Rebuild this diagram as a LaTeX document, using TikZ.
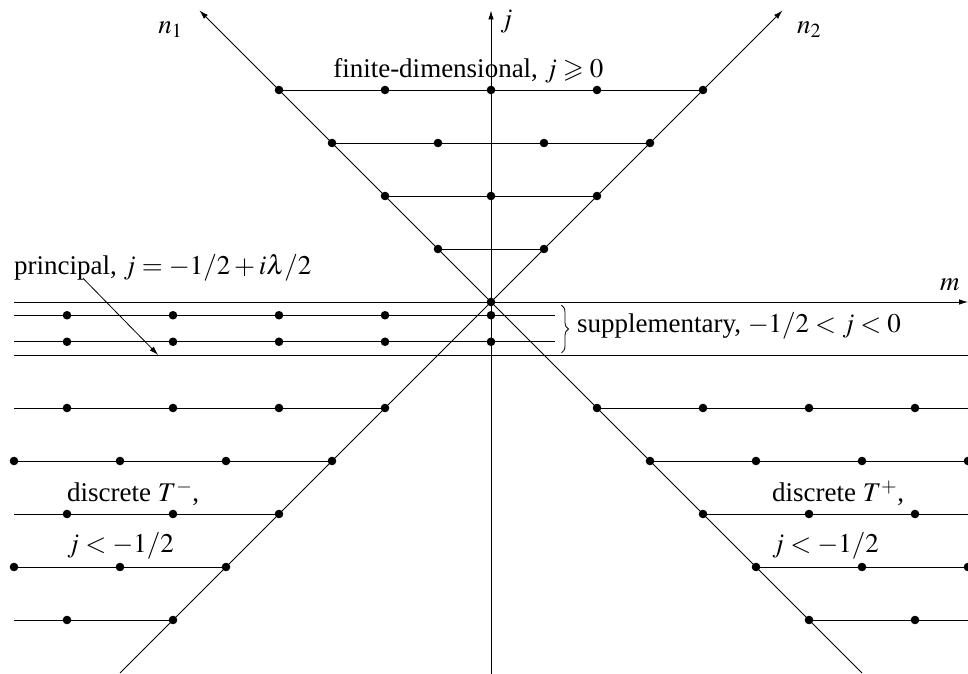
\documentclass[tikz,border=0pt]{standalone}
\usepackage{amssymb}
\usepackage{mathptmx}
\usepackage{fontspec}
\setmainfont{Liberation Serif}
\usetikzlibrary{arrows.meta,decorations.pathreplacing}
\tikzset{
  ln/.style={line width=0.8pt},
  ax/.style={line width=0.8pt,-{Latex[length=9pt,width=5.5pt]}},
  lbl/.style={inner sep=0pt,anchor=base west,font=\fontsize{27}{32}\selectfont},
  dotfill/.style={fill=black}
}
\newcommand{\pdot}[1]{\fill[dotfill] #1 circle (4.3pt);}
\begin{document}
\begin{tikzpicture}[x=53pt,y=53pt]
\useasboundingbox (-9.2642,-7.0189) rectangle (9.0,5.6981);
% axes
\coordinate (mL) at (-9,0); \coordinate (mR) at (9,0);
\coordinate (jB) at (0,-7.02); \coordinate (jT) at (0,5.5);
\coordinate (n1B) at (7,-7); \coordinate (n1T) at (-5.5,5.5);
\coordinate (n2B) at (-7,-7); \coordinate (n2T) at (5.5,5.5);
\draw[ax] (mL) -- (mR);
\draw[ax] (jB) -- (jT);
\draw[ax] (n1B) -- (n1T);
\draw[ax] (n2B) -- (n2T);
\node[lbl] (lm) at (8.47,0.226) {$m$};
\node[lbl] (lj) at (0.17,5.17) {$j$};
\node[lbl] (ln1) at (-6.28,5.075) {$n_1$};
\node[lbl] (ln2) at (5.77,5.075) {$n_2$};
% finite-dimensional
\foreach \k in {1,2,3,4} {
  \draw[ln] (-\k,\k) -- (\k,\k);
  \foreach \x in {-\k,...,\k} {
    \pgfmathtruncatemacro{\pp}{mod(\x+\k,2)}
    \ifnum\pp=0 \pdot{(\x,\k)}\fi
  }
}
\pdot{(0,0)}
\node[lbl] (fin) at (-2.98,4.245) {finite-dimensional, $j\geqslant 0$};
% supplementary
\draw[ln] (-9,-0.25) -- (1.21,-0.25);
\draw[ln] (-9,-0.75) -- (1.21,-0.75);
\foreach \x in {-8,-6,-4,-2,0} { \pdot{(\x,-0.25)} \pdot{(\x,-0.75)} }
\draw[ln,decorate,decoration={brace,amplitude=7pt}] (1.33,-0.06) -- (1.33,-0.96);
\node[lbl] (sup) at (1.62,-0.585) {supplementary, $-1/2<j<0$};
% principal
\draw[ln] (-9,-1) -- (9,-1);
\node[lbl] (pri) at (-9.0,0.51) {principal, $j=-1/2+i\lambda/2$};
\coordinate (pa) at (-7.7,0.45);
\coordinate (pb) at (-6.28,-1);
\draw[ax] (pa) -- (pb);
% discrete series
\foreach \k in {2,3,4,5,6} {
  \draw[ln] (-9,-\k) -- (-\k,-\k);
  \draw[ln] (\k,-\k) -- (9,-\k);
  \foreach \x in {\k,...,9} {
    \pgfmathtruncatemacro{\pp}{mod(\x-\k,2)}
    \ifnum\pp=0 \pdot{(\x,-\k)} \pdot{(-\x,-\k)}\fi
  }
}
\node[lbl] (dm) at (-8.0,-3.77) {discrete $T^-$,};
\node[lbl] (dmj) at (-8.0,-4.72) {$j<-1/2$};
\node[lbl] (dp) at (5.30,-3.77) {discrete $T^+$,};
\node[lbl] (dpj) at (5.30,-4.72) {$j<-1/2$};
\end{tikzpicture}
\end{document}
